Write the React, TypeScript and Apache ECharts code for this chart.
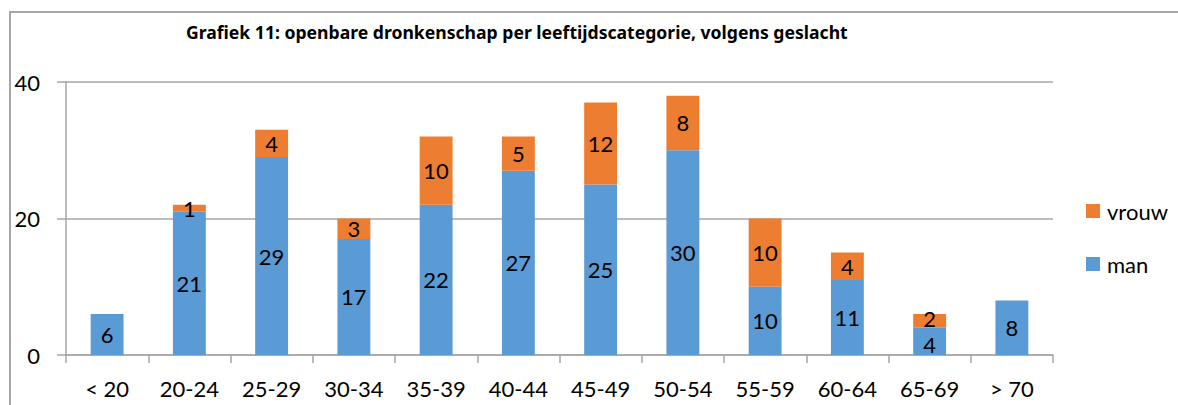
import React, { useEffect, useRef } from "react";
import * as echarts from "echarts";

const categories = ["< 20", "20-24", "25-29", "30-34", "35-39", "40-44", "45-49", "50-54", "55-59", "60-64", "65-69", "> 70"];
const man = [6, 21, 29, 17, 22, 27, 25, 30, 10, 11, 4, 8];
const vrouw = [null, 1, 4, 3, 10, 5, 12, 8, 10, 4, 2, null];
const yTicks = [0, 20, 40];
const titleText = "Grafiek 11: openbare dronkenschap per leeftijdscategorie, volgens geslacht";

const FONT = "Lato";

export default function App() {
  const ref = useRef<HTMLDivElement>(null);
  useEffect(() => {
    const chart = echarts.init(ref.current!, null, { renderer: "svg" });
    const dataLabel = { show: true, position: "inside", fontFamily: FONT, fontSize: 22, lineHeight: 18, color: "#000" };
    // where both stacked segments are short, nudge the two labels apart a little
    const tight = man.map((m, i) => m < 6 && vrouw[i] != null && (vrouw[i] as number) < 3);
    const manData = man.map((v, i) => (tight[i] ? { value: v, label: { offset: [0, 3] } } : v));
    const vrouwData = vrouw.map((v, i) => (tight[i] ? { value: v, label: { offset: [0, -2] } } : v));
    chart.setOption({
      animation: false,
      backgroundColor: "#ffffff",
      textStyle: { fontFamily: FONT },
      title: {
        text: titleText,
        left: 181,
        top: 18,
        textStyle: { fontFamily: "Noto Sans", fontWeight: "bold", fontSize: 17.6, color: "#000" },
      },
      graphic: [
        {
          type: "rect",
          shape: { x: 10, y: 12, width: 1220, height: 440 },
          style: { fill: "none", stroke: "#a6a6a6", lineWidth: 2 },
          silent: true,
        },
      ],
      legend: {
        orient: "vertical",
        left: 1081,
        top: 195,
        itemWidth: 14,
        itemHeight: 14,
        itemGap: 31,
        data: ["vrouw", "man"],
        textStyle: { fontFamily: FONT, fontSize: 22, color: "#000", padding: [0, 0, 0, 2] },
        icon: "rect",
      },
      grid: { left: 66, right: 125, top: 82, bottom: 50 },
      xAxis: {
        type: "category",
        data: categories,
        axisLine: { lineStyle: { color: "#a6a6a6", width: 1.5 } },
        axisTick: { show: true, length: 8, lineStyle: { color: "#a6a6a6", width: 1.5 } },
        axisLabel: { fontFamily: FONT, fontSize: 22, color: "#000", margin: 22 },
      },
      yAxis: {
        type: "value",
        min: yTicks[0],
        max: yTicks[yTicks.length - 1],
        interval: 20,
        axisLine: { show: true, lineStyle: { color: "#a6a6a6", width: 1.5 } },
        axisTick: { show: true, length: 9, lineStyle: { color: "#a6a6a6", width: 1.5 } },
        splitLine: { show: true, lineStyle: { color: "#a6a6a6", width: 1.5 } },
        axisLabel: { fontFamily: FONT, fontSize: 22, color: "#000", margin: 26 },
      },
      series: [
        {
          name: "man",
          type: "bar",
          stack: "total",
          data: manData,
          barWidth: "40%",
          itemStyle: { color: "#5b9bd5" },
          label: dataLabel,
        },
        {
          name: "vrouw",
          type: "bar",
          stack: "total",
          data: vrouwData,
          barWidth: "40%",
          itemStyle: { color: "#ed7d31" },
          label: dataLabel,
        },
      ],
    });
    return () => chart.dispose();
  }, []);
  return (
    <div
      ref={ref}
      style={{ position: "fixed", left: 0, top: 0, width: 1178, height: 405 }}
    />
  );
}
